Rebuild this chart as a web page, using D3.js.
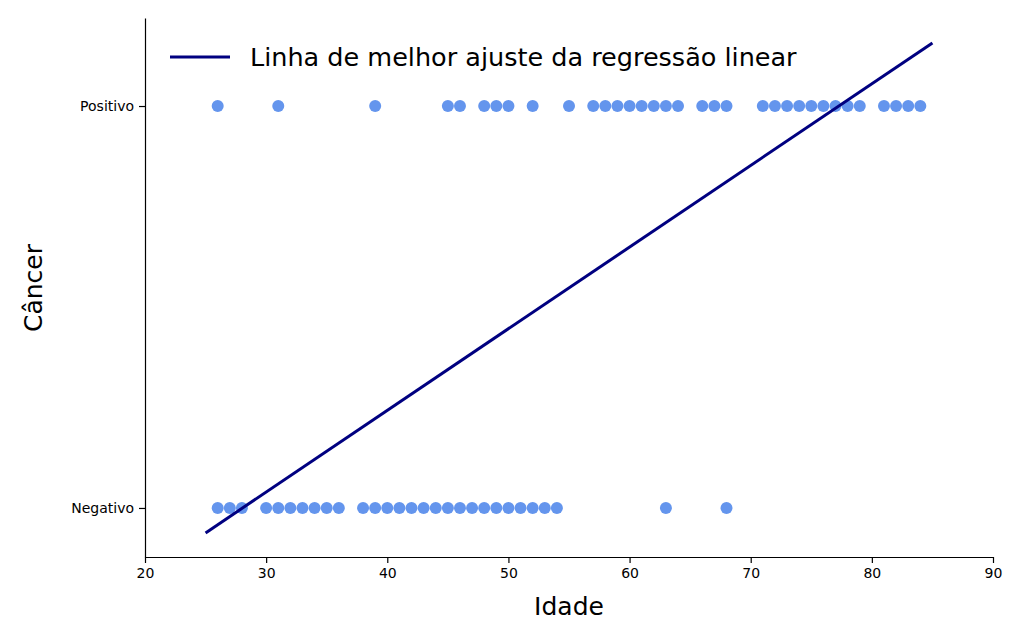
<!DOCTYPE html>
<html><head><meta charset="utf-8">
<script src="https://cdn.jsdelivr.net/npm/d3@7"></script>
<style>body{margin:0;background:#fff}svg text{font-family:"DejaVu Sans",sans-serif}</style>
</head><body><svg id="c" width="1024" height="640"></svg>
<script>
const positiveAges=[26,31,39,45,46,48,49,50,52,55,57,58,59,60,61,62,63,64,66,67,68,71,72,73,74,75,76,77,78,79,81,82,83,84];
const negativeAges=[26,27,28,30,31,32,33,34,35,36,38,39,40,41,42,43,44,45,46,47,48,49,50,51,52,53,54,63,68];
const lineX=[25,85];
const lineY=[-0.062,1.157];
const xTicks=[20,30,40,50,60,70,80,90];
const yTicks=[0,1];
const yTickLabels=["Negativo","Positivo"];

const svg=d3.select("#c");
const x=d3.scaleLinear().domain([20,90]).range([145,993]);
const y=d3.scaleLinear().domain([-0.122,1.219]).range([557,18]);

function style(g){g.attr("font-family",null).attr("font-size",null);
 g.selectAll("text").style("font-size","14px").attr("fill","#000");
 g.selectAll("path,line").attr("stroke","#000").attr("stroke-width",1.2);}
svg.append("g").attr("transform","translate(0,557)")
 .call(d3.axisBottom(x).tickValues(xTicks).tickSize(6).tickSizeOuter(0).tickPadding(5)).call(style);
svg.append("g").attr("transform","translate(145,0)")
 .call(d3.axisLeft(y).tickValues(yTicks).tickFormat((d,i)=>yTickLabels[i]).tickSize(6).tickSizeOuter(0).tickPadding(5)).call(style);

const pts=positiveAges.map(a=>[a,1]).concat(negativeAges.map(a=>[a,0]));
svg.append("g").selectAll("circle").data(pts).join("circle")
 .attr("cx",d=>x(d[0])).attr("cy",d=>y(d[1])).attr("r",6).attr("fill","#6495ed");

svg.append("line").attr("x1",x(lineX[0])).attr("y1",y(lineY[0])).attr("x2",x(lineX[1])).attr("y2",y(lineY[1]))
 .attr("stroke","#000080").attr("stroke-width",3);

svg.append("line").attr("x1",170).attr("x2",230).attr("y1",57).attr("y2",57).attr("stroke","#000080").attr("stroke-width",3);
svg.append("text").attr("x",250).attr("y",66).style("font-size","25.5px").text("Linha de melhor ajuste da regressão linear");

svg.append("text").attr("x",569).attr("y",615).attr("text-anchor","middle").style("font-size","25px").text("Idade");
svg.append("text").attr("transform","translate(42,288) rotate(-90)").attr("text-anchor","middle").style("font-size","25px").text("Câncer");
</script></body></html>
